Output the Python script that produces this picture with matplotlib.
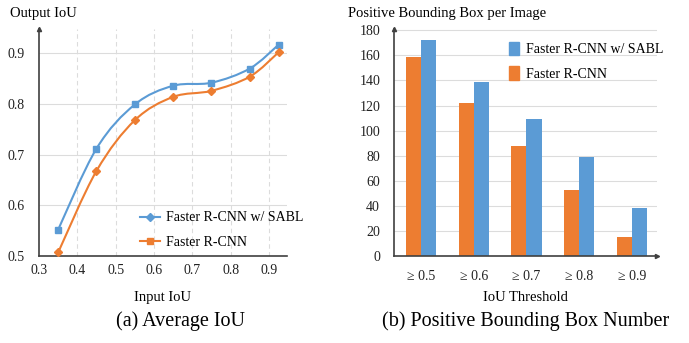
import numpy as np
import matplotlib
matplotlib.use('Agg')
import matplotlib.pyplot as plt
from matplotlib.path import Path
from matplotlib.patches import PathPatch, Patch
from matplotlib.lines import Line2D

plt.rcParams['font.family'] = ['Liberation Serif', 'DejaVu Serif']

# (a) average IoU
input_iou = [0.35, 0.45, 0.55, 0.65, 0.75, 0.85, 0.925]
sabl_iou = [0.552, 0.712, 0.799, 0.836, 0.842, 0.870, 0.917]
base_iou = [0.507, 0.668, 0.768, 0.814, 0.826, 0.854, 0.902]

# (b) positive boxes per image
thresholds = ['≥ 0.5', '≥ 0.6', '≥ 0.7', '≥ 0.8', '≥ 0.9']
base_boxes = [159, 122, 88, 53, 15]
sabl_boxes = [172, 139, 109, 79, 38]

blue = '#5b9bd5'
orange = '#ed7d31'
grid_c = '#dcdcdc'
spine_c = '#404040'


def smooth_path(x, y):
    # catmull-rom through the points, drawn as bezier segments
    p = np.column_stack([x, y])
    verts = [p[0]]
    codes = [Path.MOVETO]
    n = len(p)
    for i in range(n - 1):
        p0 = p[i - 1] if i > 0 else p[i]
        p3 = p[i + 2] if i + 2 < n else p[i + 1]
        c1 = p[i] + (p[i + 1] - p0) / 6
        c2 = p[i + 1] - (p3 - p[i]) / 6
        verts += [c1, c2, p[i + 1]]
        codes += [Path.CURVE4] * 3
    return Path(verts, codes)


def style_axes(ax, xpad):
    for s in ['top', 'right']:
        ax.spines[s].set_visible(False)
    for s in ['left', 'bottom']:
        ax.spines[s].set_color(spine_c)
        ax.spines[s].set_linewidth(1.2)
    ax.tick_params(length=0, labelsize=10, colors='#222222')
    ax.tick_params(axis='y', pad=10)
    ax.tick_params(axis='x', pad=xpad)
    ax.plot(1, 0, '>', ms=3, color=spine_c, transform=ax.get_yaxis_transform(), clip_on=False, zorder=5)
    ax.plot(0, 1, '^', ms=3, color=spine_c, transform=ax.transAxes, clip_on=False, zorder=5)


fig = plt.figure(figsize=(6.89, 3.43), dpi=100)

ax1 = fig.add_axes([39 / 689, 87 / 343, 248 / 689, 227 / 343])
ax1.set_xlim(0.3, 0.947)
ax1.set_ylim(0.5, 0.948)
ax1.set_xticks(np.arange(0.3, 0.95, 0.1))
ax1.set_yticks([0.5, 0.6, 0.7, 0.8, 0.9])
ax1.set_xticklabels(['0.3', '0.4', '0.5', '0.6', '0.7', '0.8', '0.9'])
ax1.set_yticklabels(['0.5', '0.6', '0.7', '0.8', '0.9'])
for xv in ax1.get_xticks()[1:]:
    ax1.axvline(xv, color=grid_c, lw=0.8, ls=(0, (4, 3)), zorder=0)
for yv in ax1.get_yticks()[1:]:
    ax1.axhline(yv, color=grid_c, lw=0.8, zorder=0)
style_axes(ax1, 6)

for ys, c, m in [(sabl_iou, blue, 's'), (base_iou, orange, 'D')]:
    ax1.add_patch(PathPatch(smooth_path(input_iou, ys), fc='none', ec=c, lw=1.5, zorder=2))
    ax1.plot(input_iou, ys, ls='none', marker=m, ms=4 if m == 's' else 4.5, color=c, zorder=3)

handles1 = [Line2D([], [], color=blue, lw=1.5, marker='D', ms=4),
            Line2D([], [], color=orange, lw=1.5, marker='s', ms=4)]
ax1.legend(handles1, ['Faster R-CNN w/ SABL', 'Faster R-CNN'], frameon=False,
           fontsize=10, loc='lower left', bbox_to_anchor=(0.355, -0.025),
           handlelength=1.5, handletextpad=0.4, labelspacing=0.85)
ax1.set_xlabel('Input IoU', fontsize=10.5, labelpad=10)

ax2 = fig.add_axes([394 / 689, 87 / 343, 263 / 689, 227 / 343])
xs = np.arange(len(thresholds))
w = 0.285
ax2.bar(xs - w / 2, base_boxes, w, color=orange, zorder=2)
ax2.bar(xs + w / 2, sabl_boxes, w, color=blue, zorder=2)
ax2.set_xlim(-0.507, 4.47)
ax2.set_ylim(0, 181)
ax2.set_yticks(np.arange(0, 181, 20))
ax2.set_xticks(xs)
ax2.set_xticklabels(thresholds)
for yv in np.arange(20, 181, 20):
    ax2.axhline(yv, color=grid_c, lw=0.8, zorder=0)
style_axes(ax2, 10)
handles2 = [Patch(color=blue), Patch(color=orange)]
ax2.legend(handles2, ['Faster R-CNN w/ SABL', 'Faster R-CNN'], frameon=False,
           fontsize=10, loc='upper left', bbox_to_anchor=(0.39, 1.0),
           handlelength=0.7, handleheight=1.1, handletextpad=0.5, labelspacing=0.75)
ax2.set_xlabel('IoU Threshold', fontsize=10.5, labelpad=6)

fig.text(10 / 689, 1 - 14 / 343, 'Output IoU', fontsize=10.5, va='center', ha='left')
fig.text(348 / 689, 1 - 14 / 343, 'Positive Bounding Box per Image', fontsize=10.5, va='center', ha='left')
fig.text(181 / 689, 1 - 321 / 343, '(a) Average IoU', fontsize=14.5, va='center', ha='center')
fig.text(526 / 689, 1 - 321 / 343, '(b) Positive Bounding Box Number', fontsize=14.5, va='center', ha='center')

fig.savefig('out.png', dpi=100)
